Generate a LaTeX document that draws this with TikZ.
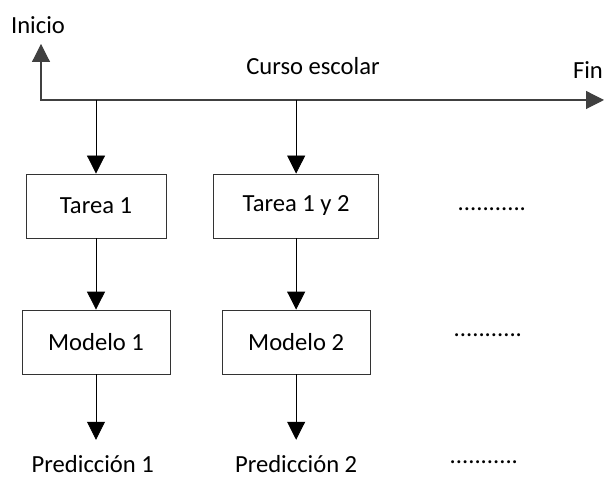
\documentclass[tikz,border=0pt]{standalone}
\usepackage{fontspec}
\setmainfont{Carlito}
\usetikzlibrary{arrows.meta}
\begin{document}
\begin{tikzpicture}[font=\fontsize{17.5}{21}\selectfont,
  >={Triangle[length=0.45cm,width=0.45cm]},
  caja/.style={draw=black!80,line width=0.6pt,minimum height=1.6cm},
  flecha/.style={->,line width=0.6pt},
  puntos/.style={minimum width=3.1cm}]
\useasboundingbox (0,0) rectangle (15.1,12.05);
% eje del curso escolar
\coordinate (arriba) at (1.025,10.95);
\coordinate (origen) at (1.025,9.55);
\coordinate (final) at (15.1,9.55);
\draw[<->,line width=0.8pt,draw=black!75] (arriba) |- (final);
\node (inicio) at (0.95,11.425) {Inicio};
\node (curso) at (7.825,10.4) {Curso escolar};
\node (fin) [anchor=east,inner xsep=0pt] at (15.08,10.3) {Fin};
\matrix (m) [column sep=1.07cm,row sep=1.78cm,matrix anchor=tarea1.center] at (2.4,6.9) {
 \node (tarea1)[caja,minimum width=3.5cm]{Tarea 1}; & \node (tarea12)[caja,minimum width=4.125cm]{Tarea 1 y 2}; & \node (dots1)[puntos,xshift=0.1cm,yshift=-0.07cm]{...........}; \\
 \node (modelo1)[caja,minimum width=3.7cm]{Modelo 1}; & \node (modelo2)[caja,minimum width=3.7cm]{Modelo 2}; & \node (dots2)[puntos,yshift=0.17cm]{...........}; \\[-0.14cm]
 \node (pred1)[minimum height=1.2cm,xshift=-0.08cm]{Predicción 1}; & \node (pred2)[minimum height=1.2cm]{Predicción 2}; & \node (dots3)[puntos,xshift=-0.1cm,yshift=0.05cm]{...........}; \\
};
\draw[flecha] (tarea1 |- origen) -- (tarea1); \draw[flecha] (tarea12 |- origen) -- (tarea12);
\draw[flecha] (tarea1) -- (modelo1); \draw[flecha] (tarea12) -- (modelo2);
\draw[flecha] (modelo1) -- (modelo1 |- pred1.north); \draw[flecha] (modelo2) -- (modelo2 |- pred2.north);
\end{tikzpicture}
\end{document}
